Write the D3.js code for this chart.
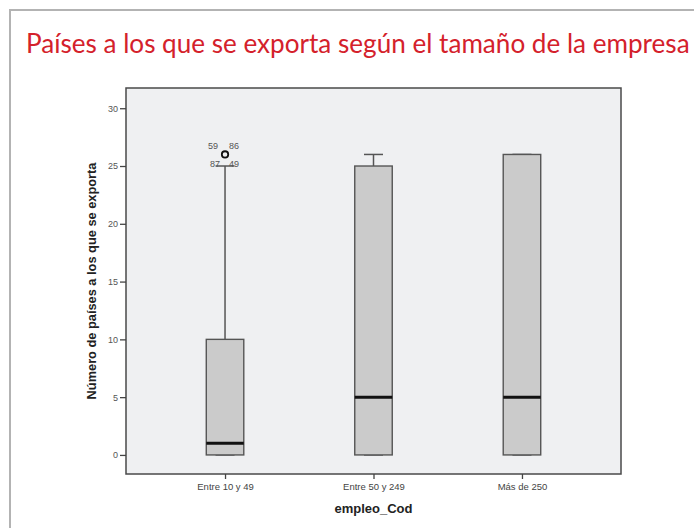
<!DOCTYPE html>
<html>
<head>
<meta charset="utf-8">
<script src="https://cdn.jsdelivr.net/npm/d3@7"></script>
<style>
  html, body { margin: 0; padding: 0; background: #fff; }
  svg { display: block; }
</style>
</head>
<body>
<svg id="chart" width="694" height="528"></svg>
<script>
// Box-plot summaries per company size
const categories = ["Entre 10 y 49", "Entre 50 y 249", "Más de 250"];
const whiskerLow = [0, 0, 0];
const q1 = [0, 0, 0];
const median = [1, 5, 5];
const q3 = [10, 25, 26];
const whiskerHigh = [25, 26, 26];

// Outliers: category index, value, case labels
const outlierCat = [0];
const outlierValue = [26];
const outlierLabels = [["59", "86", "87", "49"]];

const yTicks = [0, 5, 10, 15, 20, 25, 30];

const titleText = "Países a los que se exporta según el tamaño de la empresa";
const yTitle = "Número de países a los que se exporta";
const xTitle = "empleo_Cod";

const svg = d3.select("#chart");

// outer frame
svg.append("rect")
  .attr("x", 10).attr("y", 10)
  .attr("width", 720).attr("height", 560)
  .attr("fill", "none")
  .attr("stroke", "#b3b3b3")
  .attr("stroke-width", 2);

// title, sized to span the frame width
const title = svg.append("text")
  .attr("x", 26).attr("y", 53)
  .attr("fill", "#d4212b")
  .style("font-family", "Lato, 'Open Sans', sans-serif")
  .style("font-size", "25px")
  .text(titleText);
const tl = title.node().getComputedTextLength();
title.style("font-size", (25 * 664 / tl) + "px");

// plot area
const plot = { left: 126, right: 621, top: 88, bottom: 474 };

const x = d3.scalePoint()
  .domain(categories)
  .range([plot.left, plot.right])
  .padding(0.667);

const y = d3.scaleLinear()
  .domain([-1.65, 31.75])
  .range([plot.bottom, plot.top]);

svg.append("rect")
  .attr("x", plot.left).attr("y", plot.top)
  .attr("width", plot.right - plot.left)
  .attr("height", plot.bottom - plot.top)
  .attr("fill", "#eff0f2")
  .attr("stroke", "#4a4a4a")
  .attr("stroke-width", 1.5);

// y axis
const yAxis = svg.append("g")
  .attr("transform", `translate(${plot.left},0)`)
  .call(d3.axisLeft(y).tickValues(yTicks).tickSize(6).tickPadding(2).tickFormat(d3.format("d")));
yAxis.select(".domain").remove();
yAxis.selectAll(".tick line").attr("stroke", "#444").attr("stroke-width", 1.3);
yAxis.selectAll(".tick text")
  .attr("fill", "#555")
  .style("font-family", "'Liberation Sans', Arial, sans-serif")
  .style("font-size", "9px");

// x axis
const xAxis = svg.append("g")
  .attr("transform", `translate(0,${plot.bottom})`)
  .call(d3.axisBottom(x).tickSize(5).tickPadding(4));
xAxis.select(".domain").remove();
xAxis.selectAll(".tick line").attr("stroke", "#444").attr("stroke-width", 1.3);
xAxis.selectAll(".tick text")
  .attr("fill", "#444")
  .style("font-family", "'Liberation Sans', Arial, sans-serif")
  .style("font-size", "9.5px");

// axis titles
svg.append("text")
  .attr("transform", `translate(96,${(plot.top + plot.bottom) / 2}) rotate(-90)`)
  .attr("text-anchor", "middle")
  .attr("fill", "#222")
  .style("font-family", "'Liberation Sans', Arial, sans-serif")
  .style("font-weight", "bold")
  .style("font-size", "12.8px")
  .text(yTitle);

svg.append("text")
  .attr("x", (plot.left + plot.right) / 2)
  .attr("y", 513)
  .attr("text-anchor", "middle")
  .attr("fill", "#222")
  .style("font-family", "'Liberation Sans', Arial, sans-serif")
  .style("font-weight", "bold")
  .style("font-size", "13px")
  .text(xTitle);

// boxes
const boxW = 37.5;
const capW = 19;
const boxes = categories.map((c, i) => ({
  cat: c, lo: whiskerLow[i], q1: q1[i], med: median[i], q3: q3[i], hi: whiskerHigh[i]
}));

const g = svg.append("g");
const stroke = "#555";

boxes.forEach(b => {
  const cx = x(b.cat);
  // whiskers
  g.append("line")
    .attr("x1", cx).attr("x2", cx)
    .attr("y1", y(b.q3)).attr("y2", y(b.hi))
    .attr("stroke", stroke).attr("stroke-width", 1.5);
  g.append("line")
    .attr("x1", cx).attr("x2", cx)
    .attr("y1", y(b.q1)).attr("y2", y(b.lo))
    .attr("stroke", stroke).attr("stroke-width", 1.5);
  [b.hi, b.lo].forEach(v => {
    g.append("line")
      .attr("x1", cx - capW / 2).attr("x2", cx + capW / 2)
      .attr("y1", y(v)).attr("y2", y(v))
      .attr("stroke", stroke).attr("stroke-width", 1.5);
  });
  // box
  g.append("rect")
    .attr("x", cx - boxW / 2)
    .attr("y", y(b.q3))
    .attr("width", boxW)
    .attr("height", y(b.q1) - y(b.q3))
    .attr("fill", "#cbcbcb")
    .attr("stroke", stroke)
    .attr("stroke-width", 1.4);
  // median
  g.append("line")
    .attr("x1", cx - boxW / 2).attr("x2", cx + boxW / 2)
    .attr("y1", y(b.med)).attr("y2", y(b.med))
    .attr("stroke", "#111").attr("stroke-width", 3);
});

// outliers with case labels
outlierCat.forEach((ci, k) => {
  const cx = x(categories[ci]);
  const cy = y(outlierValue[k]);
  g.append("circle")
    .attr("cx", cx).attr("cy", cy).attr("r", 3.2)
    .attr("fill", "none")
    .attr("stroke", "#111")
    .attr("stroke-width", 1.8);
  const labs = outlierLabels[k];
  const offs = [[-12, -9], [9, -9], [-10, 9], [9, 9]];
  labs.forEach((t, j) => {
    g.append("text")
      .attr("x", cx + offs[j][0])
      .attr("y", cy + offs[j][1])
      .attr("dy", "0.35em")
      .attr("text-anchor", "middle")
      .attr("fill", "#555")
      .style("font-family", "'Liberation Sans', Arial, sans-serif")
      .style("font-size", "9px")
      .text(t);
  });
});
</script>
</body>
</html>
